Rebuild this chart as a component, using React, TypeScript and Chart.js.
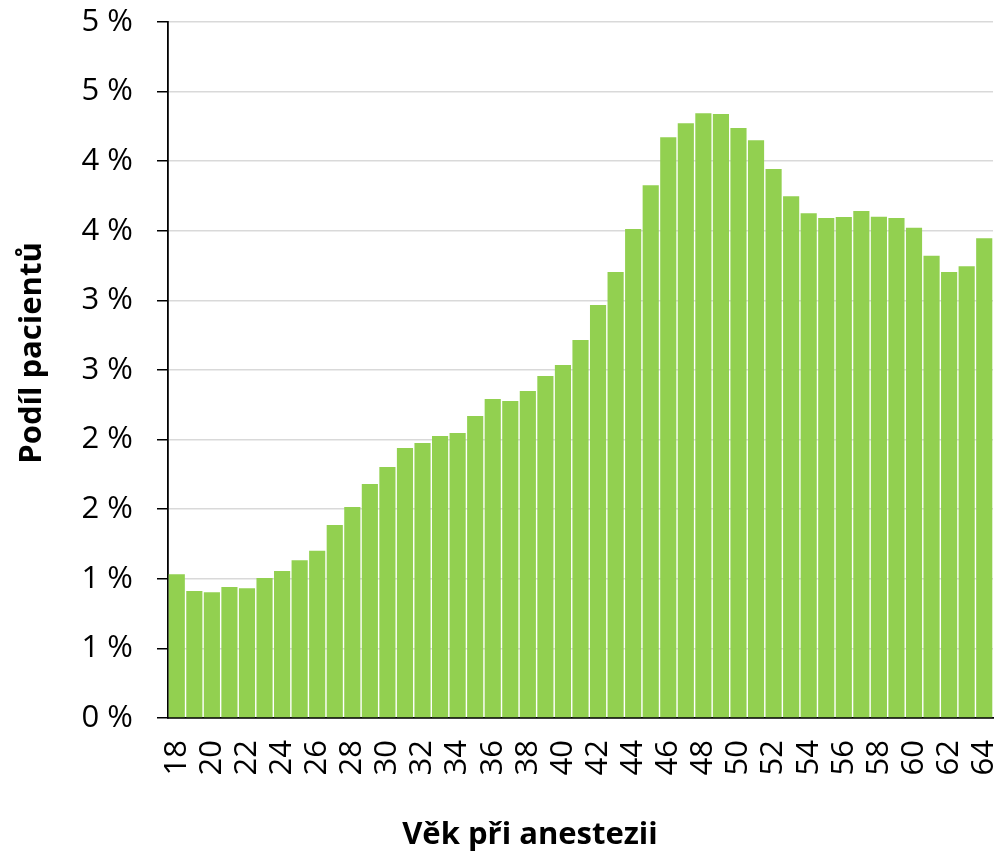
import React, { useEffect, useRef } from "react";
import { Chart, registerables } from "chart.js";

Chart.register(...registerables);

const ages: string[] = [
  "18", "19", "20", "21", "22", "23", "24", "25", "26", "27", "28", "29",
  "30", "31", "32", "33", "34", "35", "36", "37", "38", "39", "40", "41",
  "42", "43", "44", "45", "46", "47", "48", "49", "50", "51", "52", "53",
  "54", "55", "56", "57", "58", "59", "60", "61", "62", "63", "64",
];

// share of patients, in percent
const sharePct: number[] = [
  1.032, 0.912, 0.903, 0.941, 0.932, 1.006, 1.056, 1.133, 1.202, 1.386, 1.516, 1.681,
  1.803, 1.94, 1.976, 2.026, 2.047, 2.17, 2.292, 2.278, 2.349, 2.457, 2.536, 2.716,
  2.967, 3.204, 3.513, 3.827, 4.172, 4.272, 4.344, 4.339, 4.239, 4.15, 3.944, 3.748,
  3.626, 3.592, 3.599, 3.642, 3.601, 3.592, 3.522, 3.321, 3.204, 3.245, 3.446,
];

const yMin = 0;
const yMax = 5;
const yStep = 0.5;

const xTitle = "Věk při anestezii";
const yTitle = "Podíl pacientů";

const FONT = '"Open Sans", "Noto Sans", sans-serif';

const titlesPlugin = {
  id: "axisTitlesCustom",
  afterDraw(chart: any) {
    const ctx = chart.ctx as CanvasRenderingContext2D;
    ctx.save();
    ctx.fillStyle = "#000";
    ctx.font = `bold 31px ${FONT}`;
    ctx.textAlign = "center";
    ctx.textBaseline = "middle";
    ctx.fillText(xTitle, 530, 835);
    ctx.translate(32, 353);
    ctx.rotate(-Math.PI / 2);
    ctx.fillText(yTitle, 0, 0);
    ctx.restore();
  },
};

export default function App() {
  const canvasRef = useRef<HTMLCanvasElement | null>(null);

  useEffect(() => {
    if (!canvasRef.current) return;
    const chart = new Chart(canvasRef.current, {
      type: "bar",
      data: {
        labels: ages,
        datasets: [
          {
            data: sharePct,
            backgroundColor: "#92D050",
            borderWidth: 0,
            barPercentage: 0.92,
            categoryPercentage: 1,
          },
        ],
      },
      options: {
        animation: false,
        responsive: true,
        maintainAspectRatio: false,
        layout: { padding: { left: 0, right: 9, top: 22, bottom: 0 } },
        plugins: {
          legend: { display: false },
          tooltip: { enabled: false },
          title: { display: false },
        },
        scales: {
          x: {
            type: "category",
            offset: true,
            grid: { display: false, drawTicks: false },
            border: { display: true, color: "#000", width: 1.8 },
            ticks: {
              autoSkip: false,
              maxRotation: 90,
              minRotation: 90,
              padding: 22,
              color: "#000",
              font: { family: FONT, size: 31 },
              callback: (_v: any, i: number) => (parseInt(ages[i], 10) % 2 === 0 ? ages[i] : ""),
            },
            afterFit: (scale: any) => {
              scale.height = 855 - 718;
              scale.paddingLeft = 0;
              scale.paddingRight = 0;
            },
          },
          y: {
            min: yMin,
            max: yMax,
            grid: {
              color: "#D9D9D9",
              lineWidth: 1.5,
              drawTicks: true,
              tickLength: 11,
              tickColor: "#000",
              tickWidth: 1.5,
            },
            border: { display: true, color: "#000", width: 1.8 },
            ticks: {
              stepSize: yStep,
              padding: 24,
              color: "#000",
              font: { family: FONT, size: 31 },
              callback: (v: any) => `${Math.round(Number(v) + 1e-9)} %`,
            },
            afterFit: (scale: any) => {
              scale.width = 168;
              scale.paddingTop = 0;
              scale.paddingBottom = 0;
            },
          },
        },
      },
      plugins: [titlesPlugin],
    });
    return () => chart.destroy();
  }, []);

  return (
    <div style={{ position: "absolute", left: 0, top: 0, width: 1002, height: 855, background: "#fff" }}>
      <canvas ref={canvasRef} />
    </div>
  );
}
